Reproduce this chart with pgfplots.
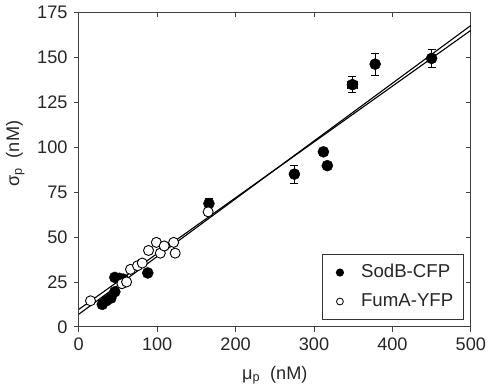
\documentclass[border=0pt]{standalone}
\usepackage{fontspec}
\setmainfont{Liberation Sans}
\usepackage{pgfplots}
\usepackage{pgfplotstable}
\pgfplotsset{compat=1.18}

\pgfplotstableread{
x y ex ey
450 149.4 0 5
378 146.2 0 6
349 134.8 6 4.5
312 97.4 0 2
317 89.7 0 0
275 85.0 0 5
166 68.6 0 3
88 30.0 0 0
46 27.5 0 0
52 27.0 0 0
57 26.5 0 0
46 19.5 0 0
41 16.0 0 0
35 14.5 0 0
30 12.5 0 0
}\sodb

\pgfplotstableread{
x y
15 14.5
55 24
61 25
66 32
75 34
81 35.5
89 42.5
99 47
104 41
109 45
121 47
123 41
165 64
}\fuma

\begin{document}
\fontsize{18bp}{21bp}\selectfont
\begin{tikzpicture}
% inner ticks on top and right
\begin{axis}[
  scale only axis, width=389bp, height=312bp,
  xmin=0, xmax=500, ymin=0, ymax=175,
  xtick={0,100,...,500}, ytick={0,25,...,175},
  tick align=inside, xtick pos=top, ytick pos=right,
  xticklabels={}, yticklabels={},
  major tick length=5bp,
  tick style={line width=0.8bp, black!75},
  axis line style={line width=0.9bp, black!75},
]
\end{axis}
\begin{axis}[
  scale only axis, width=389bp, height=312bp,
  xmin=0, xmax=500, ymin=0, ymax=175,
  xtick={0,100,...,500}, ytick={0,25,...,175},
  tick align=outside, xtick pos=bottom, ytick pos=left,
  major tick length=5bp,
  tick style={line width=0.8bp, black!75},
  axis line style={line width=0.9bp, black!75},
  /pgf/number format/assume math mode=true,
  tick label style={font=\fontsize{18bp}{21bp}\selectfont, text=black!85},
  label style={font=\fontsize{18bp}{21bp}\selectfont, text=black!85},
  xlabel={μ\textsubscript{p}\ \ (nM)},
  ylabel={σ\textsubscript{p}\ \ (nM)},
  xlabel style={at={(axis description cs:0.5,-0.154)}, anchor=center},
  ylabel style={at={(axis description cs:-0.162,0.55)}, anchor=center},
  legend style={at={(1,0)}, anchor=south east, xshift=-7bp, yshift=7bp,
    draw=black!80, line width=0.8bp, font=\fontsize{18.5bp}{21bp}\selectfont,
    text=black!85,
    inner xsep=8bp, inner ysep=8bp, row sep=9bp},
  legend cell align=left,
]
\addplot[only marks, mark=*, mark size=5.5bp, black, fill=black,
  legend image code/.code={\path[draw=none,fill=none] (0bp,0bp) -- (28bp,0bp); \fill[black] (9bp,0bp) circle (3.6bp);},
  error bars/.cd, y dir=both, y explicit, x dir=both, x explicit,
  error bar style={line width=0.8bp, black},
  error mark options={rotate=90, mark size=4bp, line width=0.8bp, black}]
  table[x=x, y=y, x error=ex, y error=ey] {\sodb};
\addlegendentry{SodB-CFP\hspace{16bp}}
\addplot[only marks, mark=*, mark size=5bp, draw=black, fill=white,
  mark options={line width=0.9bp},
  legend image code/.code={\path[draw=none,fill=none] (0bp,0bp) -- (28bp,0bp); \draw[black, fill=white, line width=0.8bp] (9bp,0bp) circle (3.4bp);}]
  table[x=x, y=y] {\fuma};
\addlegendentry{FumA-YFP\hspace{16bp}}
\addplot[black, line width=1.1bp, forget plot] coordinates {(0,7) (500,167.7)};
\addplot[black, line width=1.1bp, forget plot] coordinates {(0,9.7) (500,165)};
\end{axis}
\end{tikzpicture}
\end{document}
